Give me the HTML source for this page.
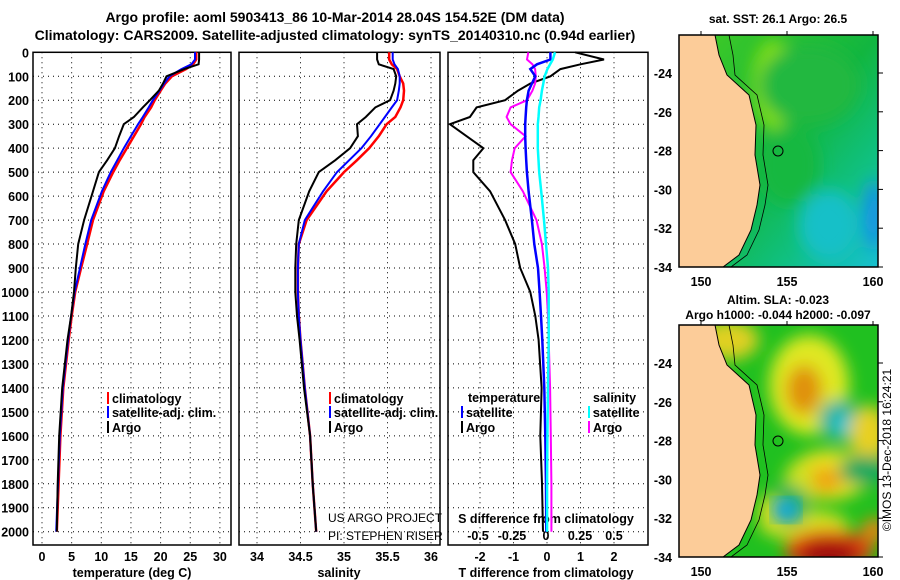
<!DOCTYPE html>
<html><head><meta charset="utf-8"><style>
body{margin:0;background:#fff;}
svg{display:block;font-family:"Liberation Sans",sans-serif;font-weight:bold;}
text{font-size:12.5px;fill:#000;}
</style></head><body>
<svg id="c" width="900" height="580" viewBox="0 0 900 580">
<defs>
<clipPath id="m1"><rect x="679" y="35" width="199" height="232"/></clipPath>
<clipPath id="m2"><rect x="679" y="325" width="199" height="232"/></clipPath>
<filter id="bl"><feGaussianBlur stdDeviation="8"/></filter>
<linearGradient id="sstg" x1="0" y1="0" x2="1" y2="1"><stop offset="0" stop-color="#44cc22"/><stop offset="0.5" stop-color="#12b640"/><stop offset="0.75" stop-color="#10c080"/><stop offset="1" stop-color="#18c0d0"/></linearGradient>
</defs>
<text x="335" y="22" text-anchor="middle" style="font-size:14px">Argo profile: aoml 5903413_86 10-Mar-2014 28.04S 154.52E (DM data)</text>
<text x="335" y="40" text-anchor="middle" style="font-size:14px">Climatology: CARS2009. Satellite-adjusted climatology: synTS_20140310.nc (0.94d earlier)</text>
<g id="plots"></g>
<g id="maps"></g>
<text transform="translate(891,450) rotate(-90)" text-anchor="middle" style="font-size:12px;font-weight:normal">©IMOS 13-Dec-2018 16:24:21</text>
</svg>
<script>
const depths = [0,30,50,70,100,130,160,200,230,270,300,350,400,450,500,580,700,800,900,1000,1100,1200,1400,1600,1800,2000];
const argoT = [26.5,26.5,26.4,24,21,20.4,19.7,18.2,17,15.5,13.8,13,12.3,11,9.6,8.6,7.1,6.1,5.7,5.4,4.9,4.3,3.4,2.9,2.65,2.5];
const climT = [26,26,25.5,24.3,21.9,20.8,20,19,18.4,17.3,16.7,15.5,14.3,13.1,12,10.4,8.6,7.6,6.6,5.6,5.0,4.5,3.6,3.1,2.8,2.5];
const satT = [25.8,25.8,25.2,23.5,21.5,20.6,19.8,18.7,18,17,16.2,15,13.8,12.7,11.6,10.1,8.3,7.3,6.4,5.5,4.9,4.4,3.5,3.0,2.7,2.4];
const argoS = [35.38,35.38,35.4,35.57,35.6,35.59,35.57,35.53,35.36,35.25,35.15,35.16,35.07,34.9,34.71,34.6,34.48,34.45,34.44,34.44,34.46,34.49,34.54,34.61,34.64,34.68];
const climS = [35.52,35.52,35.55,35.61,35.64,35.68,35.69,35.68,35.65,35.59,35.49,35.4,35.29,35.15,35.0,34.8,34.57,34.48,34.47,34.47,34.48,34.5,34.55,34.61,34.64,34.68];
const satS = [35.56,35.56,35.58,35.62,35.64,35.64,35.63,35.61,35.55,35.47,35.41,35.31,35.2,35.06,34.92,34.76,34.55,34.48,34.47,34.47,34.48,34.5,34.55,34.61,34.64,34.68];
const argoDT = [0.84,1.7,1.0,0.4,0.1,-0.5,-0.87,-1.25,-2.1,-2.3,-2.9,-2.4,-1.9,-2.2,-2.2,-1.7,-1.25,-0.95,-0.8,-0.5,-0.35,-0.25,-0.16,-0.2,-0.15,-0.12];
const satDT = [0.1,0.1,-0.3,-0.5,-0.35,-0.45,-0.55,-0.6,-0.62,-0.64,-0.65,-0.65,-0.64,-0.62,-0.6,-0.55,-0.45,-0.38,-0.27,-0.22,-0.18,-0.14,-0.08,-0.05,-0.03,-0.02];
const satDS = [0.066,0.05,0.03,0.01,-0.01,-0.02,-0.03,-0.04,-0.05,-0.055,-0.06,-0.06,-0.06,-0.055,-0.05,-0.035,-0.015,0,0.015,0.02,0.02,0.02,0.015,0.01,0.008,0.008];
const argoDS = [-0.13,-0.14,-0.1,-0.08,-0.075,-0.08,-0.1,-0.14,-0.26,-0.29,-0.26,-0.15,-0.23,-0.25,-0.26,-0.17,-0.07,-0.03,-0.01,0.005,0.015,0.02,0.03,0.035,0.04,0.04];
const depthTicks = [0,100,200,300,400,500,600,700,800,900,1000,1100,1200,1300,1400,1500,1600,1700,1800,1900,2000];
const tTicks = [0,5,10,15,20,25,30];
const sTicks = [34,34.5,35,35.5,36];
const dtTicks = [-2,-1,0,1,2];
const dsTicks = [-0.5,-0.25,0,0.25,0.5];
const dsTickLabels = ["-0.5","-0.25","0","0.25","0.5"];

const NS="http://www.w3.org/2000/svg";
const P=document.getElementById('plots');
const TOP=52.3, BOT=545, K=0.2397;
const yD=d=>TOP+K*d;
const xT=t=>42+5.93*t;
const xS=s=>257+87*(s-34);
const xDT=v=>547+33.5*v;
const xDS=v=>546+136*v;
function el(tag,attrs,parent){const e=document.createElementNS(NS,tag);for(const k in attrs)e.setAttribute(k,attrs[k]);(parent||P).appendChild(e);return e;}
function txt(x,y,s,anchor,parent,size){const t=el('text',{x:x,y:y,'text-anchor':anchor||'start'},parent);if(size)t.style.fontSize=size+'px';t.textContent=s;return t;}

const panels=[[33,231,'temperature-panel'],[239,440,'salinity-panel'],[448,648,'difference-panel']];
panels.forEach(([l,r,nm],pi)=>{
  const g=el('g',{});
  
  
  depthTicks.forEach(d=>{if(d>0){const ln=el('line',{x1:l,x2:r,y1:yD(d),y2:yD(d),stroke:'#000','stroke-width':1,'stroke-dasharray':'1,4'},g);}});
  const fr=el('rect',{x:l,y:TOP,width:r-l,height:BOT-TOP,fill:'none',stroke:'#000','stroke-width':1.5},g);
  
});
depthTicks.forEach(d=>{const t=txt(29,yD(d)+5,String(d),'end');});
function vgrid(ticks,fx,l,r){ticks.forEach(v=>{const x=fx(v);if(x>l+1&&x<r-1){const ln=el('line',{x1:x,x2:x,y1:TOP,y2:BOT,stroke:'#000','stroke-width':1,'stroke-dasharray':'1,4'});}});}
vgrid(tTicks,xT,33,231);vgrid(sTicks,xS,239,440);vgrid(dtTicks,xDT,448,648);
tTicks.forEach(v=>{const t=txt(xT(v),561,String(v),'middle');});
sTicks.forEach(v=>{const t=txt(xS(v),561,String(v),'middle');});
dtTicks.forEach(v=>{const t=txt(xDT(v),561,String(v),'middle');});
dsTicks.forEach((v,i)=>{const t=txt(xDS(v),540,dsTickLabels[i],'middle');});
let a=txt(132,577,'temperature (deg C)','middle');
a=txt(339,577,'salinity','middle');
a=txt(546,577,'T difference from climatology','middle');
a=txt(546,523,'S difference from climatology','middle');

function line(vals,fx,color,w,name){
  const pts=vals.map((v,i)=>fx(v).toFixed(1)+','+yD(depths[i]).toFixed(1)).join(' ');
  const p=el('polyline',{points:pts,fill:'none',stroke:color,'stroke-width':w,'stroke-linejoin':'miter'});
  
  
}
line(climT,xT,'#f00',2.5,'climatology-temperature-line');
line(satT,xT,'#00f',2,'satellite-temperature-line');
line(argoT,xT,'#000',2,'argo-temperature-line');
line(climS,xS,'#f00',2.5,'climatology-salinity-line');
line(satS,xS,'#00f',2,'satellite-salinity-line');
line(argoS,xS,'#000',2,'argo-salinity-line');
line(argoDT,xDT,'#000',2,'argo-t-diff-line');
line(argoDS,xDS,'#f0f',2,'argo-s-diff-line');
line(satDT,xDT,'#00f',2.5,'satellite-t-diff-line');
line(satDS,xDS,'#0ff',2.5,'satellite-s-diff-line');

function legend(x,y,color,label,name){
  const g=el('g',{});
  
  
  el('rect',{x:x,y:y-10,width:2,height:12,fill:color},g);
  txt(x+5,y+1,label,'start',g);
}
legend(107,402,'#f00','climatology','legend-climatology');
legend(107,416,'#00f','satellite-adj. clim.','legend-satellite-adj');
legend(107,431,'#000','Argo','legend-argo');
legend(329,402,'#f00','climatology','legend-s-climatology');
legend(329,416,'#00f','satellite-adj. clim.','legend-s-satellite-adj');
legend(329,431,'#000','Argo','legend-s-argo');
a=txt(468,402,'temperature');
a=txt(593,402,'salinity');
legend(461,416,'#00f','satellite','legend-t-satellite');
legend(461,431,'#000','Argo','legend-t-argo');
legend(588,416,'#0ff','satellite','legend-s-satellite');
legend(588,431,'#f0f','Argo','legend-s-argo-diff');
a=txt(328,522,'US ARGO PROJECT','start',null,12);a.style.fontWeight='normal';
a=txt(328,540,'PI: STEPHEN RISER','start',null,12);a.style.fontWeight='normal';

// maps
const M=document.getElementById('maps');
const coast=[[36,0],[40,20],[48,40],[70,60],[77,90],[76,120],[81,150],[78,170],[72,195],[60,220],[44,232],[0,232],[0,0]];
const latTicks=[-24,-26,-28,-30,-32,-34];
const lonTicks=[150,155,160];
function drawMap(oy,kind,title1,title2){
  const ox=679,w=199,h=232;
  const g=el('g',{'clip-path':'url(#'+(kind==='sst'?'m1':'m2')+')'},M);
  
  
  if(kind==='sst'){
    el('rect',{x:ox,y:oy,width:w,height:h,fill:'url(#sstg)'},g);
    const bf=el('g',{filter:'url(#bl)'},g);
    el('ellipse',{cx:ox+95,cy:oy+50,rx:22,ry:45,fill:'#88e010'},bf);
    el('ellipse',{cx:ox+150,cy:oy+190,rx:30,ry:35,fill:'#18c0c8'},bf);
    el('ellipse',{cx:ox+195,cy:oy+180,rx:10,ry:35,fill:'#1890e8'},bf);
    el('ellipse',{cx:ox+130,cy:oy+50,rx:50,ry:40,fill:'#20b840'},bf);
    el('ellipse',{cx:ox+110,cy:oy+130,rx:30,ry:40,fill:'#18b840'},bf);
  } else {
    el('rect',{x:ox,y:oy,width:w,height:h,fill:'#20c020'},g);
    const bf=el('g',{filter:'url(#bl)'},g);
    [[130,60,40,50,'#e0e820'],[125,65,18,25,'#e09010'],[160,95,20,20,'#10b0a0'],[165,100,10,10,'#20c8d8'],
     [150,150,40,25,'#e8e020'],[145,155,18,12,'#f0a010'],[120,160,15,25,'#d0e020'],[190,110,20,30,'#e8d020'],
     [185,145,25,15,'#10a860'],[125,200,45,15,'#d8e020'],[150,225,45,20,'#e04010'],[150,230,30,15,'#a00808'],
     [110,180,20,20,'#10b060'],[90,185,10,15,'#e0e020'],[50,15,30,20,'#e0d020'],[195,205,12,12,'#f08010']
    ].forEach(([cx,cy,rx,ry,c])=>el('ellipse',{cx:ox+cx,cy:oy+cy,rx:rx,ry:ry,fill:c},bf));
    el('ellipse',{cx:ox+107,cy:oy+185,rx:14,ry:12,fill:'#10a8e0',filter:'url(#bl)'},g);
  }
  const land=el('polygon',{points:coast.map(p=>(ox+p[0])+','+(oy+p[1])).join(' '),fill:'#fccc99',stroke:'#000','stroke-width':1},g);
  
  const iso=el('polyline',{points:coast.slice(0,11).map(p=>(ox+p[0]+(p[1]<30?14:8))+','+(oy+p[1])).join(' '),fill:'none',stroke:'#000','stroke-width':0.8},g);
  
  const c=el('circle',{cx:ox+99,cy:oy+116,r:5,fill:'none',stroke:'#000','stroke-width':1},M);
  
  const fr=el('rect',{x:ox,y:oy,width:w,height:h,fill:'none',stroke:'#000','stroke-width':1.5},M);
  
  latTicks.forEach(v=>{const y=oy+232-(v+34)*19.4;const t=txt(672,y+5,String(v),'end',M);
    el('line',{x1:878,x2:883,y1:y,y2:y,stroke:'#000'},M);});
  lonTicks.forEach(v=>{const x=701+(v-150)*17.2;const t=txt(x,oy+251,String(v),'middle',M);
    el('line',{x1:x,x2:x,y1:oy-4,y2:oy,stroke:'#000'},M);});
  let t=txt(778,oy-(title2?21:12),title1,'middle',M,12);
  if(title2){t=txt(778,oy-6,title2,'middle',M,12);}
}
drawMap(35,'sst','sat. SST: 26.1 Argo: 26.5');
drawMap(325,'sla','Altim. SLA: -0.023','Argo h1000: -0.044 h2000: -0.097');
</script>
</body></html>
